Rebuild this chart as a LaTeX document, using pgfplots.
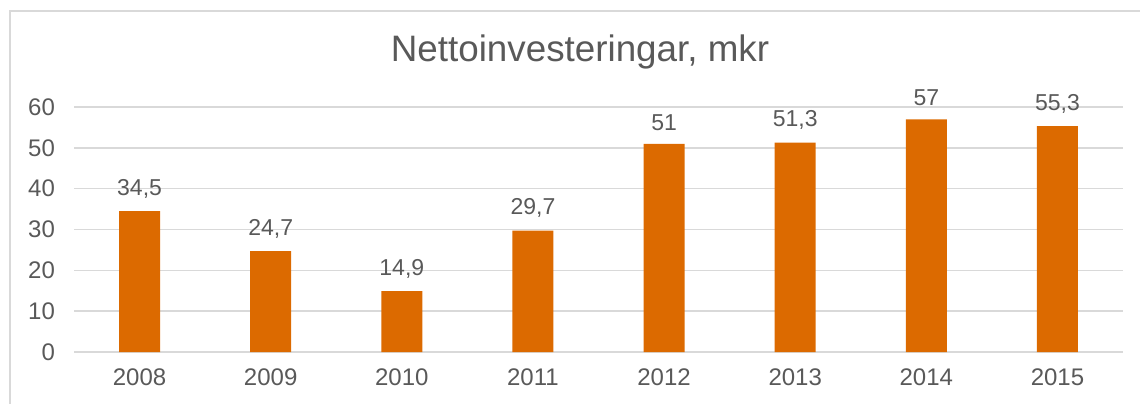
\documentclass[border=0pt]{standalone}
\usepackage{pgfplots}
\pgfplotsset{compat=1.18}
\usepackage{fontspec}
\setmainfont{Liberation Sans}
\definecolor{barorange}{RGB}{220,106,0}
\definecolor{txtgray}{RGB}{89,89,89}
\definecolor{gridgray}{RGB}{217,217,217}
\begin{document}
\begin{tikzpicture}
\path[use as bounding box] (0,0) rectangle (570pt,201.5pt);
\draw[gridgray,line width=0.8pt] (5pt,-10pt) -- (5pt,196pt) -- (590pt,196pt);
\begin{axis}[
  at={(37pt,25.5pt)}, anchor=south west,
  scale only axis, width=524.5pt, height=122.5pt,
  xmin=-0.5, xmax=7.5, ymin=0, ymax=60,
  xtick={0,...,7},
  xticklabels={2008,2009,2010,2011,2012,2013,2014,2015},
  ytick={0,10,...,60},
  ymajorgrids, grid style={gridgray,line width=0.8pt},
  axis line style={draw=none},
  major tick length=0pt,
  tick label style={font=\fontsize{12}{14}\selectfont, text=txtgray},
  xticklabel style={yshift=-5pt},
  yticklabel style={xshift=-6pt},
  /pgf/number format/assume math mode=true,
  /pgf/number format/use comma,
  ybar, bar width=20.5pt,
  nodes near coords,
  every node near coord/.append style={font=\fontsize{11.5}{13}\selectfont, text=txtgray, yshift=3pt},
  clip=false,
]
\addplot[fill=barorange, draw=none] coordinates {(0,34.5) (1,24.7) (2,14.9) (3,29.7) (4,51) (5,51.3) (6,57) (7,55.3)};
\end{axis}
\node[text=txtgray, font=\fontsize{18.4}{22}\selectfont] at (290pt,175.5pt) {Nettoinvesteringar, mkr};
\end{tikzpicture}
\end{document}
